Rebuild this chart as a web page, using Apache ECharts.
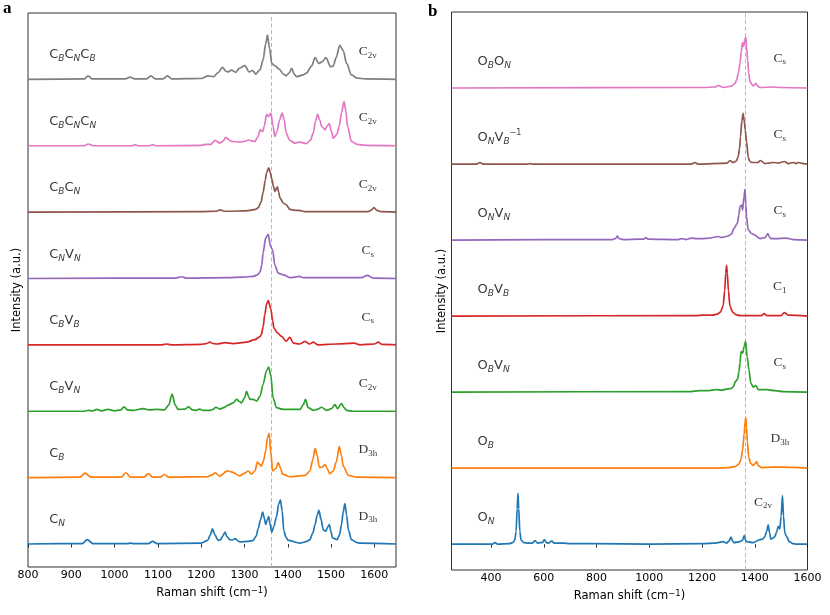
<!DOCTYPE html>
<html>
<head>
<meta charset="utf-8">
<script src="https://cdn.jsdelivr.net/npm/echarts@6.0.0/dist/echarts.min.js"></script>
<style>
  html, body { margin: 0; padding: 0; background: #fff; }
  #chart { width: 830px; height: 615px; }
</style>
</head>
<body>
<div id="chart"></div>
<script>
// ---- panel a : carbon defects, Raman shift (cm-1) vs normalised intensity (max = 100)
const specCN = [[800,0],[925,1],[937,10],[950,1],[1030,1],[1036,2],[1045,1],[1078,1],[1088,6],[1098,1],[1200,2],[1215,8],[1221,20],[1226,34],[1232,20],[1239,8],[1245,10],[1250,18],[1255,27],[1260,16],[1266,10],[1272,9],[1279,12],[1285,7],[1289,5],[1309,6],[1320,8],[1327,18],[1332,36],[1337,55],[1342,72],[1346,58],[1349,44],[1353,55],[1356,62],[1359,45],[1363,27],[1368,40],[1374,62],[1379,90],[1383,100],[1387,75],[1391,29],[1396,15],[1401,8],[1428,2],[1445,6],[1451,10],[1458,25],[1463,44],[1468,65],[1472,76],[1477,55],[1482,32],[1488,29],[1492,38],[1496,44],[1500,28],[1503,14],[1514,10],[1520,22],[1524,44],[1528,72],[1532,91],[1536,65],[1540,32],[1547,10],[1560,3],[1567,2],[1650,0]]
const specCB = [[800,0],[920,1],[932,10],[945,1],[1015,1],[1026,11],[1037,1],[1068,1],[1078,9],[1088,1],[1105,1],[1115,7],[1125,1],[1215,2],[1225,6],[1232,11],[1243,3],[1250,8],[1257,14],[1263,15],[1270,13],[1289,4],[1300,10],[1309,15],[1316,8],[1324,15],[1330,35],[1335,30],[1339,26],[1344,38],[1349,60],[1353,90],[1357,100],[1361,55],[1365,15],[1372,20],[1378,34],[1383,22],[1388,8],[1405,2],[1440,5],[1451,15],[1458,40],[1463,66],[1468,50],[1473,23],[1480,24],[1486,30],[1491,20],[1497,9],[1505,15],[1512,35],[1519,70],[1524,50],[1528,26],[1540,5],[1559,1],[1650,0]]
const specCBVN = [[800,0],[930,0],[939,2],[950,1],[959,4],[970,1],[985,4],[1000,1],[1014,3],[1022,10],[1030,3],[1043,2],[1066,6],[1080,3],[1097,4],[1115,3],[1125,14],[1133,39],[1140,14],[1147,4],[1163,5],[1171,10],[1180,3],[1188,2],[1196,5],[1205,2],[1220,2],[1227,4],[1234,9],[1243,5],[1252,8],[1262,14],[1274,19],[1282,27],[1288,22],[1293,19],[1300,30],[1305,45],[1310,32],[1313,27],[1320,27],[1328,23],[1336,34],[1343,61],[1351,92],[1356,100],[1361,80],[1366,30],[1374,8],[1390,4],[1428,4],[1436,15],[1441,27],[1447,8],[1459,2],[1470,5],[1478,9],[1490,2],[1501,6],[1509,15],[1515,6],[1524,17],[1530,8],[1536,2],[1551,0],[1650,0]]
const specCBVB = [[800,0],[1110,0],[1120,2],[1130,0],[1200,1],[1212,3],[1220,6],[1228,3],[1236,2],[1255,5],[1274,3],[1305,6],[1324,12],[1335,18],[1339,23],[1343,40],[1347,69],[1351,92],[1355,100],[1361,81],[1365,55],[1368,38],[1376,27],[1386,19],[1396,8],[1405,17],[1413,4],[1428,2],[1440,8],[1450,2],[1459,6],[1470,0],[1513,2],[1553,4],[1567,0],[1600,2],[1609,6],[1618,1],[1650,0]]
const specCNVN = [[800,0],[1140,1],[1155,4],[1165,1],[1260,2],[1297,3],[1320,5],[1330,8],[1336,15],[1340,30],[1343,58],[1349,92],[1355,100],[1360,73],[1365,65],[1370,31],[1378,12],[1390,8],[1405,2],[1418,3],[1426,5],[1436,2],[1570,2],[1584,7],[1597,1],[1650,0]]
const specCBCN = [[800,0],[1200,1],[1235,2],[1244,5],[1253,2],[1266,2],[1300,3],[1313,4],[1325,6],[1332,10],[1338,22],[1343,44],[1348,72],[1351,89],[1356,100],[1360,88],[1363,75],[1367,58],[1370,47],[1376,57],[1379,45],[1382,32],[1390,20],[1396,17],[1405,6],[1418,4],[1426,4],[1440,1],[1585,1],[1592,4],[1599,10],[1606,4],[1615,1],[1650,0]]
const specCBCNCN = [[800,0],[930,0],[939,4],[950,0],[1040,0],[1046,2],[1055,0],[1080,0],[1088,2],[1096,0],[1200,1],[1210,3],[1222,3],[1232,12],[1243,6],[1250,10],[1257,19],[1265,13],[1270,10],[1289,8],[1300,10],[1309,13],[1317,11],[1324,10],[1331,20],[1336,36],[1342,32],[1346,45],[1351,71],[1356,66],[1361,74],[1366,45],[1370,21],[1375,32],[1381,58],[1387,74],[1392,58],[1396,29],[1405,12],[1416,6],[1428,8],[1443,5],[1452,12],[1459,29],[1464,55],[1469,71],[1474,58],[1478,44],[1486,36],[1491,45],[1496,50],[1501,32],[1505,17],[1513,25],[1519,45],[1524,74],[1530,100],[1534,80],[1538,44],[1547,10],[1560,3],[1580,1],[1650,0]]
const specCBCNCB = [[800,0],[930,1],[939,8],[948,1],[1025,1],[1036,5],[1046,1],[1074,1],[1084,8],[1094,1],[1112,1],[1122,8],[1132,1],[1200,2],[1216,8],[1228,6],[1240,16],[1249,27],[1258,18],[1262,17],[1270,21],[1280,16],[1288,25],[1301,31],[1311,17],[1319,20],[1326,12],[1336,22],[1343,44],[1349,80],[1353,100],[1358,70],[1363,36],[1370,31],[1380,23],[1390,12],[1396,8],[1403,14],[1409,25],[1415,12],[1420,6],[1435,10],[1443,14],[1455,30],[1463,49],[1472,36],[1480,40],[1488,49],[1499,29],[1505,30],[1512,50],[1520,77],[1528,65],[1536,36],[1547,10],[1560,3],[1580,1],[1650,0]]

// ---- panel b : oxygen defects
const specON = [[250,0],[405,0],[415,3],[425,0],[470,1],[482,3],[490,8],[495,25],[499,70],[502,100],[505,70],[509,25],[514,8],[524,3],[540,2],[556,2],[567,7],[576,2],[586,3],[595,3],[602,9],[610,3],[617,2],[630,6],[640,2],[674,2],[700,1],[788,1],[1000,0],[1200,1],[1250,2],[1281,5],[1293,2],[1302,6],[1310,14],[1316,6],[1321,3],[1344,5],[1354,8],[1360,17],[1365,8],[1369,5],[1394,3],[1420,9],[1430,10],[1438,15],[1445,25],[1451,38],[1456,22],[1461,10],[1470,12],[1476,15],[1483,24],[1489,35],[1495,30],[1500,55],[1505,96],[1509,55],[1514,22],[1521,15],[1531,5],[1545,1],[1558,0],[1600,0]]
const specOB = [[250,0],[1250,0],[1300,1],[1325,3],[1340,8],[1348,18],[1354,36],[1360,69],[1363,90],[1366,100],[1369,80],[1372,52],[1377,22],[1384,10],[1394,5],[1401,9],[1407,13],[1413,5],[1426,1],[1466,2],[1508,2],[1600,0]]
const specOBVN = [[250,0],[1150,1],[1192,3],[1220,3],[1255,5],[1275,4],[1293,6],[1308,7],[1318,10],[1327,21],[1335,26],[1340,40],[1344,57],[1348,80],[1354,77],[1360,90],[1365,100],[1371,70],[1378,44],[1385,18],[1394,10],[1404,13],[1413,5],[1445,5],[1476,3],[1508,1],[1600,0]]
const specOBVB = [[250,0],[1180,1],[1200,2],[1240,2],[1258,4],[1270,8],[1280,20],[1286,50],[1290,85],[1293,100],[1296,85],[1300,50],[1306,20],[1316,8],[1328,3],[1344,1],[1425,1],[1436,5],[1445,1],[1500,1],[1512,7],[1527,2],[1600,0]]
const specONVN = [[250,0],[860,1],[872,3],[879,8],[886,3],[900,1],[965,2],[980,2],[987,5],[995,2],[1110,1],[1122,3],[1140,1],[1160,4],[1179,3],[1198,3],[1230,4],[1262,7],[1274,5],[1300,8],[1312,12],[1321,23],[1334,33],[1340,50],[1344,66],[1350,69],[1354,59],[1359,85],[1363,100],[1366,70],[1369,46],[1375,20],[1388,13],[1400,10],[1420,3],[1440,5],[1449,13],[1456,6],[1461,3],[1483,3],[1518,4],[1546,1],[1600,0]]
const specONVB = [[250,0],[345,0],[358,3],[370,0],[540,0],[548,1],[556,0],[1160,0],[1173,3],[1185,0],[1295,2],[1306,7],[1318,3],[1330,6],[1337,14],[1342,30],[1346,54],[1351,85],[1356,100],[1360,85],[1364,67],[1369,44],[1375,14],[1380,6],[1388,3],[1410,3],[1422,7],[1438,1],[1455,2],[1470,3],[1490,2],[1512,5],[1527,1],[1546,3],[1556,1],[1565,3],[1584,1],[1600,0]]
const specOBON = [[250,0],[1200,1],[1250,2],[1262,5],[1281,1],[1312,4],[1325,9],[1331,16],[1338,30],[1344,49],[1349,72],[1353,89],[1358,82],[1362,95],[1366,100],[1369,80],[1373,55],[1377,30],[1382,12],[1394,4],[1404,9],[1412,3],[1420,1],[1470,2],[1500,1],[1600,0]]

// bottom -> top stacking order
const spectraA = [specCN, specCB, specCBVN, specCBVB, specCNVN, specCBCN, specCBCNCN, specCBCNCB]
const spectraB = [specON, specOB, specOBVN, specOBVB, specONVN, specONVB, specOBON]
const namesA = ['{m|C}{s|N}', '{m|C}{s|B}', '{m|C}{s|B}{m|V}{s|N}', '{m|C}{s|B}{m|V}{s|B}', '{m|C}{s|N}{m|V}{s|N}',
  '{m|C}{s|B}{m|C}{s|N}', '{m|C}{s|B}{m|C}{s|N}{m|C}{s|N}', '{m|C}{s|B}{m|C}{s|N}{m|C}{s|B}']
const namesB = ['{m|O}{s|N}', '{m|O}{s|B}', '{m|O}{s|B}{m|V}{s|N}', '{m|O}{s|B}{m|V}{s|B}', '{m|O}{s|N}{m|V}{s|N}',
  '{m|O}{s|N}{m|V}{s|B}{p|−1}', '{m|O}{s|B}{m|O}{s|N}']
const symA = ['{m|D}{s|3h}', '{m|D}{s|3h}', '{m|C}{s|2v}', '{m|C}{s|s}', '{m|C}{s|s}', '{m|C}{s|2v}', '{m|C}{s|2v}', '{m|C}{s|2v}']
const symB = ['{m|C}{s|2v}', '{m|D}{s|3h}', '{m|C}{s|s}', '{m|C}{s|1}', '{m|C}{s|s}', '{m|C}{s|s}', '{m|C}{s|s}']
const ticksA = [800, 900, 1000, 1100, 1200, 1300, 1400, 1500, 1600]
const ticksB = [400, 600, 800, 1000, 1200, 1400, 1600]
const dashA = 1363
const dashB = 1364

const colors = ['#1f77b4', '#ff7f0e', '#2ca02c', '#d62728', '#9467bd', '#8c564b', '#e377c2', '#7f7f7f']
const STEP = 150
const sans = 'DejaVu Sans'
const serif = 'Liberation Serif'

const richSans = {
  m: { fontFamily: sans, fontSize: 13, color: '#000', lineHeight: 17 },
  s: { fontFamily: sans, fontSize: 9, fontStyle: 'italic', color: '#000', lineHeight: 17, verticalAlign: 'bottom' },
  p: { fontFamily: sans, fontSize: 8, color: '#000', lineHeight: 17, verticalAlign: 'top' }
}
const richSerif = {
  m: { fontFamily: serif, fontSize: 13.5, color: '#000', lineHeight: 17 },
  s: { fontFamily: serif, fontSize: 9, color: '#000', lineHeight: 17, verticalAlign: 'bottom' }
}
const richName = {
  n: { fontFamily: sans, fontSize: 11.5, color: '#000', lineHeight: 15 },
  u: { fontFamily: sans, fontSize: 8.5, color: '#000', lineHeight: 15, verticalAlign: 'top' }
}

const chart = echarts.init(document.getElementById('chart'))

// stacked traces, shifted up by STEP each
function traceSeries(idx, spectra, dash) {
  return spectra.map((spec, i) => {
    const s = {
      type: 'line', xAxisIndex: idx, yAxisIndex: idx,
      data: spec.map(p => [p[0], p[1] + i * STEP]),
      showSymbol: false, smooth: 0.3, smoothMonotone: 'x', silent: true,
      lineStyle: { color: colors[i], width: 1.7 },
      z: 3
    }
    if (i === 0) {
      s.markLine = {
        silent: true, symbol: 'none', label: { show: false },
        lineStyle: { color: '#b8b8b8', width: 1, type: [4, 2.5] },
        data: [{ xAxis: dash }], z: 1
      }
    }
    return s
  })
}

function labelSeries(idx, rows, at, rich, pos) {
  return {
    type: 'scatter', xAxisIndex: idx, yAxisIndex: idx,
    symbolSize: 1, itemStyle: { color: 'rgba(0,0,0,0)' }, silent: true,
    data: rows.map((t, i) => {
      const p = at(i)
      return { value: [p[0], i * STEP + p[1]], label: { formatter: t } }
    }),
    label: { show: true, position: pos, distance: 0, rich: rich },
    z: 5
  }
}

function xAxisOf(idx, min, max, ticks, gap) {
  return {
    type: 'value', gridIndex: idx, min: min, max: max,
    name: '{n|Raman shift (cm}{u|−1}{n|)}', nameLocation: 'middle', nameGap: gap,
    nameTextStyle: { fontFamily: sans, fontSize: 11.5, color: '#000', rich: richName },
    axisLine: { show: false },
    axisTick: { show: true, inside: false, length: 3.5, customValues: ticks, lineStyle: { color: '#000', width: 0.8 } },
    axisLabel: { customValues: ticks, fontFamily: sans, fontSize: 11, color: '#000', margin: 3, formatter: v => String(v) },
    splitLine: { show: false }
  }
}

function yAxisOf(idx, min, max, gap) {
  return {
    type: 'value', gridIndex: idx, min: min, max: max,
    name: 'Intensity (a.u.)', nameLocation: 'middle', nameGap: gap,
    nameTextStyle: { fontFamily: sans, fontSize: 11.5, color: '#000' },
    axisLine: { show: false }, axisTick: { show: false }, axisLabel: { show: false },
    splitLine: { show: false }
  }
}

const gridStyle = { show: true, borderColor: '#1a1a1a', borderWidth: 0.9, backgroundColor: 'transparent' }

const option = {
  backgroundColor: '#fff',
  animation: false,
  grid: [
    { left: 28, top: 13, width: 368, height: 554, ...gridStyle },
    { left: 451.5, top: 12, width: 356, height: 558, ...gridStyle }
  ],
  xAxis: [xAxisOf(0, 800, 1650, ticksA, 17), xAxisOf(1, 250, 1600, ticksB, 16)],
  yAxis: [yAxisOf(0, -52, 1200, 5), yAxisOf(1, -51, 1050, 3)],
  graphic: [
    { type: 'text', left: 3, top: 0, style: { text: 'a', font: 'bold 17px "Liberation Serif"', fill: '#000' } },
    { type: 'text', left: 428, top: 3, style: { text: 'b', font: 'bold 17px "Liberation Serif"', fill: '#000' } }
  ],
  series: [
    ...traceSeries(0, spectraA, dashA),
    ...traceSeries(1, spectraB, dashB),
    labelSeries(0, namesA, () => [848, 55], richSans, 'right'),
    labelSeries(0, symA, () => [1585, 63], richSerif, 'inside'),
    labelSeries(1, namesB, () => [347, 53], richSans, 'right'),
    labelSeries(1, symB, i => (i === 0 ? [1431, 83] : [1495, 59]), richSerif, 'inside')
  ]
}

chart.setOption(option)
</script>
</body>
</html>
